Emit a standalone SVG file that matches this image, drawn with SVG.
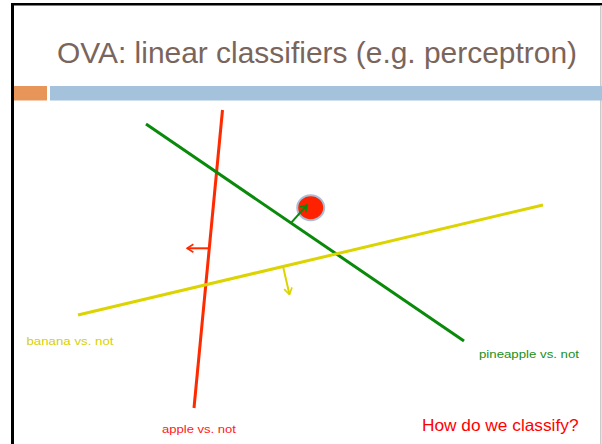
<svg xmlns="http://www.w3.org/2000/svg" width="602" height="444" viewBox="0 0 602 444">
<style>
.lbl{font-family:"Liberation Sans",Arial,sans-serif;}
.ln{fill:none;stroke-width:3;stroke-linecap:butt;}
.ar{fill:none;stroke-width:2;}
</style>
<defs>
<marker id="hr" viewBox="0 0 10 12" refX="9" refY="6" markerWidth="8" markerHeight="10" markerUnits="userSpaceOnUse" orient="auto"><path d="M1,1 L9,6 L1,11" fill="none" stroke="#ff2a00" stroke-width="2"/></marker>
<marker id="hg" viewBox="0 0 10 12" refX="9" refY="6" markerWidth="8" markerHeight="10" markerUnits="userSpaceOnUse" orient="auto"><path d="M1,1 L9,6 L1,11" fill="none" stroke="#0a8a0a" stroke-width="2"/></marker>
<marker id="hy" viewBox="0 0 10 12" refX="9" refY="6" markerWidth="8" markerHeight="10" markerUnits="userSpaceOnUse" orient="auto"><path d="M1,1 L9,6 L1,11" fill="none" stroke="#dcd400" stroke-width="2"/></marker>
</defs>
<rect width="602" height="444" fill="#ffffff"/>
<g id="frame">
<line x1="11" y1="4.3" x2="602" y2="4.3" stroke="#000" stroke-width="2.6"/>
<line x1="12.5" y1="3" x2="12.5" y2="444" stroke="#000" stroke-width="3"/>
<line x1="600.8" y1="5.5" x2="600.8" y2="444" stroke="#c8c8c8" stroke-width="1.5"/>
<rect x="14" y="86" width="33" height="14.5" fill="#e8955a"/>
<rect x="50" y="86" width="552" height="14.5" fill="#a4c2db"/>
</g>
<g id="title">
<text class="lbl" x="57" y="63.3" font-size="29" fill="#7a655c" textLength="520" lengthAdjust="spacingAndGlyphs">OVA: linear classifiers (e.g. perceptron)</text>
</g>
<g id="point">
<ellipse cx="310.7" cy="207.7" rx="13.5" ry="12.5" fill="#ff2200" stroke="#a9bfd8" stroke-width="2"/>
</g>
<g id="connectors">
<line class="ln" x1="222.5" y1="110" x2="194" y2="408" stroke="#ff2a00"/>
<line class="ln" x1="146" y1="124" x2="464" y2="341" stroke="#0a8a0a"/>
<line class="ln" x1="78" y1="315" x2="543" y2="205" stroke="#dcd400"/>
<line class="ar" x1="209" y1="248.3" x2="187" y2="248.3" stroke="#ff2a00" marker-end="url(#hr)"/>
<line class="ar" x1="291.5" y1="222.3" x2="307" y2="205" stroke="#0a8a0a" marker-end="url(#hg)"/>
<line class="ar" x1="283.3" y1="267.5" x2="289.5" y2="294.5" stroke="#dcd400" marker-end="url(#hy)"/>
</g>
<g id="labels">
<text class="lbl" x="26.5" y="345" font-size="11" fill="#d8d000" textLength="87" lengthAdjust="spacingAndGlyphs">banana vs. not</text>
<text class="lbl" x="479" y="358" font-size="11" fill="#1a8f1a" textLength="100" lengthAdjust="spacingAndGlyphs">pineapple vs. not</text>
<text class="lbl" x="162" y="433" font-size="11" fill="#ff2020" textLength="74" lengthAdjust="spacingAndGlyphs">apple vs. not</text>
<text class="lbl" x="422" y="430.5" font-size="16.5" fill="#ff0000" textLength="156.5" lengthAdjust="spacingAndGlyphs">How do we classify?</text>
</g>
</svg>
